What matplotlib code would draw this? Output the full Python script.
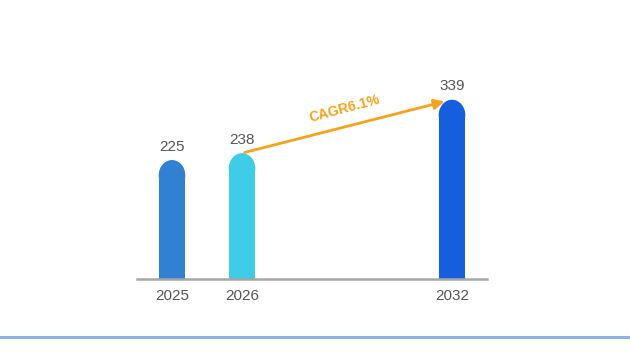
import matplotlib
matplotlib.use("Agg")
import matplotlib.pyplot as plt
from matplotlib.patches import Ellipse
from matplotlib.lines import Line2D

years = ["2025", "2026", "2032"]
values = [225, 238, 339]
slots = [0, 1, 4]
colors = ["#3180D2", "#3ECCE6", "#175EDF"]
cagr_label = "CAGR6.1%"

plt.rcParams["font.family"] = ["Liberation Sans Narrow", "Liberation Sans", "DejaVu Sans"]

fig = plt.figure(figsize=(6.3, 3.54), dpi=100)
ax = fig.add_axes([137 / 630, 75 / 354, 350 / 630, 239 / 354])
ax.set_xlim(-0.5, 4.5)
ax.set_ylim(0, 452)

bar_w = 0.38
# pixel -> data scale factors for the round caps
px_x = 5.0 / 350
px_y = 452 / 239
cap_h = bar_w / px_x * px_y * 1.15  # slightly taller than a semicircle

for x, v, c in zip(slots, values, colors):
    ax.bar(x, v - cap_h / 2, width=bar_w, color=c, lw=0, zorder=2)
    ax.add_patch(Ellipse((x, v - cap_h / 2), bar_w, cap_h, facecolor=c, lw=0, zorder=2))
    ax.text(x, v + 12, str(v), ha="center", va="bottom", fontsize=11, color="#555555")

ax.annotate("", xy=(slots[2] - 0.07, values[2] - 2), xytext=(slots[1], values[1]),
            arrowprops=dict(arrowstyle="-|>,head_length=0.6,head_width=0.3",
                            color="#F5A31E", lw=2), zorder=3)
ax.text(2.47, 322, cagr_label, rotation=15, ha="center", va="center",
        fontsize=10, fontweight="bold", color="#F5A31E")

ax.set_xticks(slots)
ax.set_xticklabels(years, fontsize=11, color="#555555")
ax.tick_params(axis="x", length=0, pad=7)
ax.set_yticks([])
for s in ["top", "right", "left"]:
    ax.spines[s].set_visible(False)
ax.spines["bottom"].set_color("#A6A6A6")
ax.spines["bottom"].set_linewidth(1.8)

fig.add_artist(Line2D([0, 1], [17 / 354, 17 / 354], color="#8DB3E2", lw=2.2,
                      transform=fig.transFigure))

fig.savefig("out.png", dpi=100)
